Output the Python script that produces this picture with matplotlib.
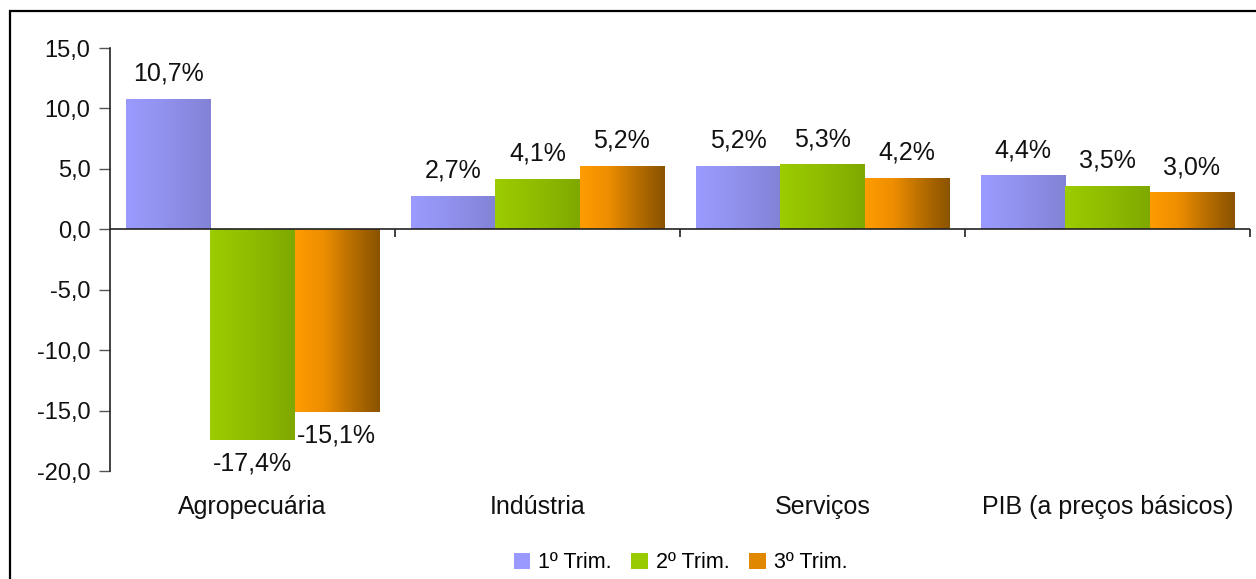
import matplotlib
matplotlib.use("Agg")
import matplotlib.pyplot as plt
import numpy as np
from matplotlib.colors import LinearSegmentedColormap
from matplotlib.patches import Rectangle, Patch

categories = ["Agropecuária", "Indústria", "Serviços", "PIB (a preços básicos)"]
series_names = ["1º Trim.", "2º Trim.", "3º Trim."]
trim1 = [10.7, 2.7, 5.2, 4.4]
trim2 = [-17.4, 4.1, 5.3, 3.5]
trim3 = [-15.1, 5.2, 4.2, 3.0]
yticks = [15, 10, 5, 0, -5, -10, -15, -20]

series = [trim1, trim2, trim3]
grads = [
    ["#9B9BFF", "#9090EC", "#8282D6"],
    ["#9CCC00", "#8FBC00", "#7FA800"],
    ["#FF9C00", "#EE8E00", "#B86E00", "#8A5300"],
]
legend_cols = ["#9999FF", "#99CC00", "#E08800"]

plt.rcParams['font.family'] = ['Liberation Sans', 'DejaVu Sans']

fig = plt.figure(figsize=(12.56, 5.79), dpi=100)
W, H = 1256, 579
ax = fig.add_axes([110 / W, 1 - 471 / H, 1140 / W, 423 / H])

bw = 0.296
x = np.arange(len(categories))
grad_img = np.linspace(0, 1, 256).reshape(1, -1)
for i, vals in enumerate(series):
    cmap = LinearSegmentedColormap.from_list(f"g{i}", grads[i])
    offs = (i - 1) * bw
    bars = ax.bar(x + offs, vals, width=bw, color="none", edgecolor="none", zorder=2)
    for b, v in zip(bars, vals):
        x0 = b.get_x()
        x1 = x0 + b.get_width()
        y0, y1 = (0, v) if v >= 0 else (v, 0)
        ax.imshow(grad_img, cmap=cmap, extent=[x0, x1, y0, y1], aspect="auto",
                  zorder=2, interpolation="bicubic")
        lab = f"{v:.1f}%".replace(".", ",")
        dy = 26 if v >= 0 else -24
        ax.annotate(lab, (b.get_x() + b.get_width() / 2, v), xytext=(0, dy),
                    textcoords="offset pixels", ha="center", va="center",
                    fontsize=18, color="#111111", zorder=5)

ax.set_xlim(-0.5, 3.5)
ax.set_ylim(-20, 15)
ax.set_yticks(yticks)
ax.set_yticklabels([f"{t:.1f}".replace(".", ",") for t in yticks], fontsize=17, color="#111111")
ax.set_xticks(x)
ax.set_xticklabels(categories, fontsize=18, color="#111111")
ax.tick_params(axis="x", length=0, pad=17)
ax.tick_params(axis="y", length=8, width=1, color="#555555", pad=6)

for s in ["top", "right", "bottom"]:
    ax.spines[s].set_visible(False)
ax.spines["left"].set_color("#222222")
ax.spines["left"].set_linewidth(1.2)

# zero line and category separators
ax.axhline(0, color="#222222", lw=1.2, zorder=3)
tick_len = 8 / (423 / 35)
ax.vlines([0.5, 1.5, 2.5, 3.5], -tick_len, 0, color="#222222", lw=1.2, zorder=3, clip_on=False)

handles = [Patch(facecolor=c, edgecolor="none") for c in legend_cols]
leg = fig.legend(handles, series_names, loc="center", bbox_to_anchor=(0.542, 1 - 563 / H),
                 ncol=3, frameon=False, fontsize=15.5, handlelength=0.75, handleheight=0.75,
                 handletextpad=0.4, columnspacing=0.9)

fig.patches.append(Rectangle((10 / W, -0.05), 1.2, (1 - 11 / H) + 0.05,
                             transform=fig.transFigure, fill=False, edgecolor="black",
                             lw=1.6, zorder=10))

fig.savefig("out.png", dpi=100)
